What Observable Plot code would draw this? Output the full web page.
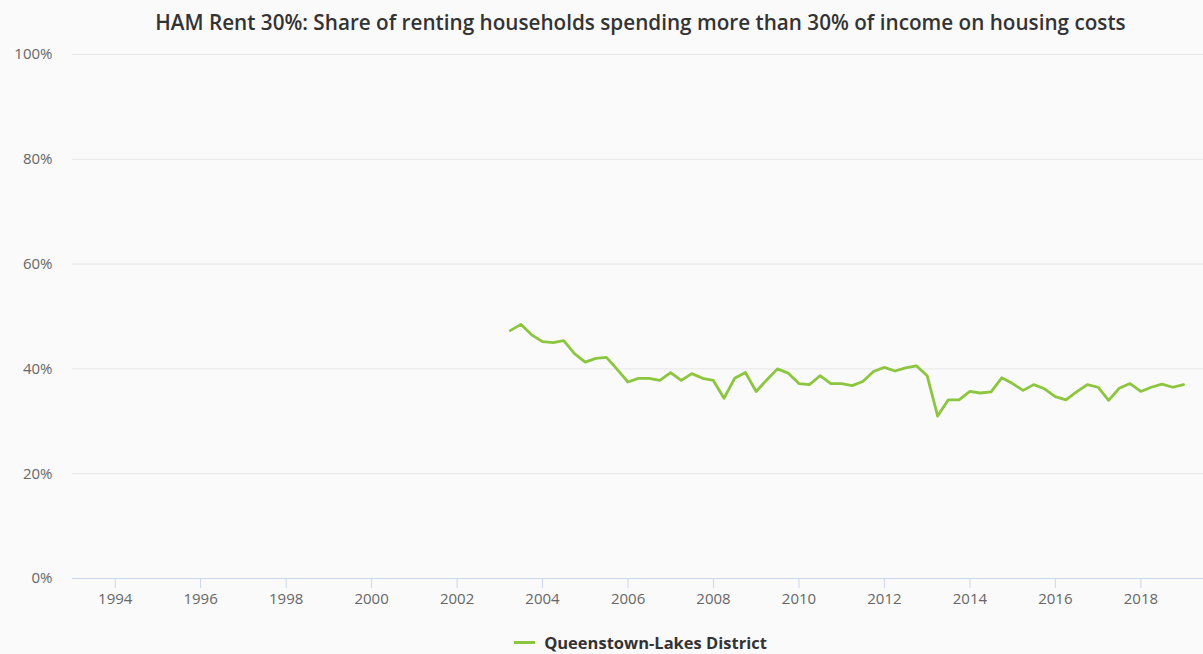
<!DOCTYPE html>
<html>
<head>
<meta charset="utf-8">
<script src="https://cdn.jsdelivr.net/npm/d3@7"></script>
<script src="https://cdn.jsdelivr.net/npm/@observablehq/plot@0.6"></script>
<style>
  html, body { margin: 0; padding: 0; background: #fafafa; }
  body { width: 1203px; height: 654px; overflow: hidden; font-family: "Open Sans", sans-serif; }
  #title { box-sizing: border-box; width: 1203px; padding-left: 78px; height: 40px; line-height: 44px; text-align: center; font-size: 20.7px; font-weight: 600; color: #333333; white-space: nowrap; }
  #chart svg { display: block; background: #fafafa; }
  #legend { box-sizing: border-box; width: 1203px; padding-left: 78px; height: 24px; display: flex; justify-content: center; align-items: center; font-size: 16.5px; font-weight: 700; color: #333333; }
  #legend .sw { display: inline-block; width: 21px; height: 3px; background: #8cc63e; margin-right: 9px; }
</style>
</head>
<body>
<div id="title">HAM Rent 30%: Share of renting households spending more than 30% of income on housing costs</div>
<div id="chart"></div>
<div id="legend"><span class="sw"></span><span>Queenstown-Lakes District</span></div>
<script>
// Series: Queenstown-Lakes District, quarterly from 2003 Q1 to 2018 Q4 (percent)
const seriesName = "Queenstown-Lakes District";
const firstYear = 2003;
const values = [
  47.3, 48.5, 46.5, 45.2, 45.0, 45.4, 42.9, 41.3, 42.0, 42.2,
  39.9, 37.5, 38.2, 38.2, 37.8, 39.3, 37.8, 39.1, 38.2, 37.8,
  34.4, 38.2, 39.3, 35.7, 37.9, 40.0, 39.2, 37.2, 37.0, 38.7,
  37.2, 37.2, 36.8, 37.6, 39.5, 40.3, 39.6, 40.2, 40.6, 38.7,
  31.0, 34.1, 34.1, 35.7, 35.4, 35.6, 38.3, 37.2, 35.9, 37.0,
  36.2, 34.7, 34.1, 35.6, 37.0, 36.5, 34.0, 36.3, 37.2, 35.7,
  36.5, 37.1, 36.5, 37.0
];
const xTickYears = [1994, 1996, 1998, 2000, 2002, 2004, 2006, 2008, 2010, 2012, 2014, 2016, 2018];
const yTicks = [0, 20, 40, 60, 80, 100];

// quarter-end dates
const data = values.map((v, i) => ({
  date: new Date(Date.UTC(firstYear + Math.floor(i / 4), 3 * ((i % 4) + 1), 0)),
  value: v
}));
const xTicks = xTickYears.map(y => new Date(Date.UTC(y, 0, 1)));

const chart = Plot.plot({
  width: 1203,
  height: 590,
  marginLeft: 72,
  marginRight: 0,
  marginTop: 14,
  marginBottom: 52,
  style: { background: "#fafafa", fontFamily: "Open Sans, sans-serif", fontSize: "15px", overflow: "visible" },
  x: { type: "utc", domain: [new Date(Date.UTC(1993, 0, 1)), new Date(Date.UTC(2019, 5, 20))] },
  y: { domain: [0, 100] },
  marks: [
    Plot.gridY(yTicks.filter(d => d > 0), { stroke: "#e6e6e6", strokeOpacity: 1, strokeWidth: 1 }),
    Plot.axisY(yTicks, { tickSize: 0, tickPadding: 20, tickFormat: d => d + "%", fill: "#666666", fontSize: 15, label: null }),
    Plot.ruleY([0], { stroke: "#ccd6eb", strokeWidth: 1 }),
    Plot.axisX(xTicks, { tickSize: 10, tickPadding: 5, stroke: "#ccd6eb", fill: "#666666", tickFormat: d => String(d.getUTCFullYear()), fontSize: 15, label: null }),
    Plot.line(data, { x: "date", y: "value", stroke: "#8cc63e", strokeWidth: 2.8, strokeLinejoin: "round", strokeLinecap: "round" })
  ]
});
document.getElementById("chart").appendChild(chart);
</script>
</body>
</html>
